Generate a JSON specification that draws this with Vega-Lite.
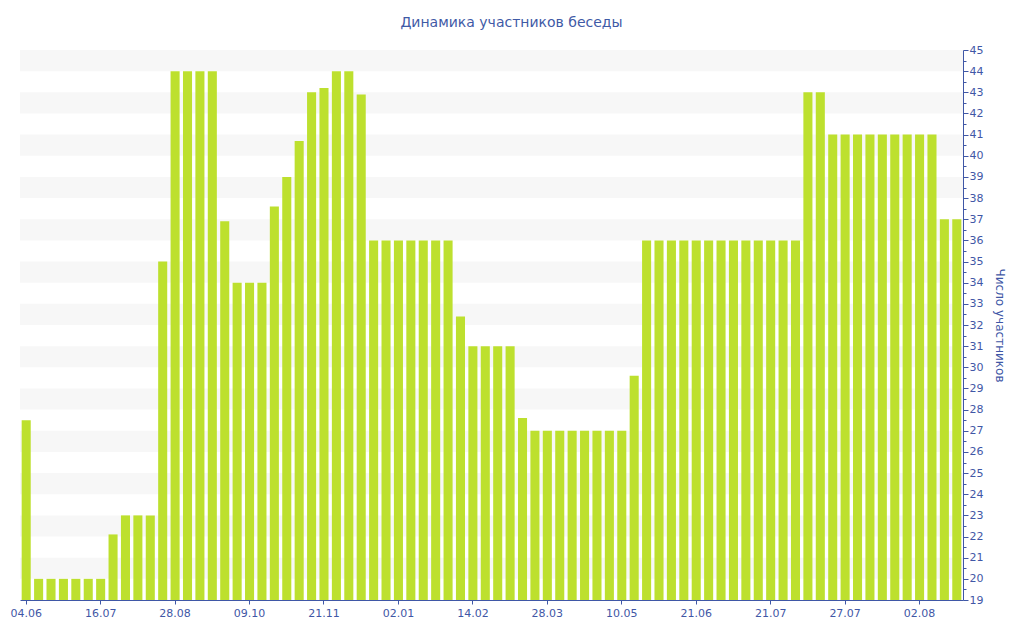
{
  "$schema": "https://vega.github.io/schema/vega-lite/v6.json",
  "width": 943,
  "height": 550,
  "autosize": {"type": "none"},
  "padding": {"left": 20, "top": 50, "right": 61, "bottom": 40},
  "background": "white",
  "title": {"text": "Динамика участников беседы", "font": "DejaVu Sans", "fontSize": 14, "fontWeight": "normal", "color": "#3f5aa6", "anchor": "middle", "dx": 20, "offset": 14},
  "config": {
    "view": {"stroke": null},
    "axis": {"labelFont": "DejaVu Sans", "titleFont": "DejaVu Sans", "labelColor": "#3f57a6", "titleColor": "#3f57a6", "domainColor": "#3f57a6", "tickColor": "#3f57a6", "grid": false}
  },
  "datasets": {
    "bars": [
      {"date": "04.06.2019", "count": 27.5},
      {"date": "11.06.2019", "count": 20},
      {"date": "18.06.2019", "count": 20},
      {"date": "25.06.2019", "count": 20},
      {"date": "02.07.2019", "count": 20},
      {"date": "09.07.2019", "count": 20},
      {"date": "16.07.2019", "count": 20},
      {"date": "23.07.2019", "count": 22.1},
      {"date": "30.07.2019", "count": 23},
      {"date": "06.08.2019", "count": 23},
      {"date": "13.08.2019", "count": 23},
      {"date": "20.08.2019", "count": 35},
      {"date": "28.08.2019", "count": 44},
      {"date": "04.09.2019", "count": 44},
      {"date": "11.09.2019", "count": 44},
      {"date": "18.09.2019", "count": 44},
      {"date": "25.09.2019", "count": 36.9},
      {"date": "02.10.2019", "count": 34},
      {"date": "09.10.2019", "count": 34},
      {"date": "16.10.2019", "count": 34},
      {"date": "23.10.2019", "count": 37.6},
      {"date": "30.10.2019", "count": 39},
      {"date": "06.11.2019", "count": 40.7},
      {"date": "13.11.2019", "count": 43},
      {"date": "21.11.2019", "count": 43.2},
      {"date": "28.11.2019", "count": 44},
      {"date": "05.12.2019", "count": 44},
      {"date": "12.12.2019", "count": 42.9},
      {"date": "19.12.2019", "count": 36},
      {"date": "26.12.2019", "count": 36},
      {"date": "02.01.2020", "count": 36},
      {"date": "09.01.2020", "count": 36},
      {"date": "16.01.2020", "count": 36},
      {"date": "23.01.2020", "count": 36},
      {"date": "30.01.2020", "count": 36},
      {"date": "06.02.2020", "count": 32.4},
      {"date": "14.02.2020", "count": 31},
      {"date": "21.02.2020", "count": 31},
      {"date": "28.02.2020", "count": 31},
      {"date": "06.03.2020", "count": 31},
      {"date": "13.03.2020", "count": 27.6},
      {"date": "20.03.2020", "count": 27},
      {"date": "28.03.2020", "count": 27},
      {"date": "04.04.2020", "count": 27},
      {"date": "11.04.2020", "count": 27},
      {"date": "18.04.2020", "count": 27},
      {"date": "25.04.2020", "count": 27},
      {"date": "02.05.2020", "count": 27},
      {"date": "10.05.2020", "count": 27},
      {"date": "17.05.2020", "count": 29.6},
      {"date": "24.05.2020", "count": 36},
      {"date": "31.05.2020", "count": 36},
      {"date": "07.06.2020", "count": 36},
      {"date": "14.06.2020", "count": 36},
      {"date": "21.06.2020", "count": 36},
      {"date": "26.06.2020", "count": 36},
      {"date": "01.07.2020", "count": 36},
      {"date": "06.07.2020", "count": 36},
      {"date": "11.07.2020", "count": 36},
      {"date": "16.07.2020", "count": 36},
      {"date": "21.07.2020", "count": 36},
      {"date": "22.07.2020", "count": 36},
      {"date": "23.07.2020", "count": 36},
      {"date": "24.07.2020", "count": 43},
      {"date": "25.07.2020", "count": 43},
      {"date": "26.07.2020", "count": 41},
      {"date": "27.07.2020", "count": 41},
      {"date": "28.07.2020", "count": 41},
      {"date": "29.07.2020", "count": 41},
      {"date": "30.07.2020", "count": 41},
      {"date": "31.07.2020", "count": 41},
      {"date": "01.08.2020", "count": 41},
      {"date": "02.08.2020", "count": 41},
      {"date": "03.08.2020", "count": 41},
      {"date": "04.08.2020", "count": 37},
      {"date": "05.08.2020", "count": 37}
    ],
    "bands": [
      {"lo": 20, "hi": 21}, {"lo": 22, "hi": 23}, {"lo": 24, "hi": 25}, {"lo": 26, "hi": 27},
      {"lo": 28, "hi": 29}, {"lo": 30, "hi": 31}, {"lo": 32, "hi": 33}, {"lo": 34, "hi": 35},
      {"lo": 36, "hi": 37}, {"lo": 38, "hi": 39}, {"lo": 40, "hi": 41}, {"lo": 42, "hi": 43},
      {"lo": 44, "hi": 45}
    ]
  },
  "layer": [
    {
      "data": {"name": "bands"},
      "mark": {"type": "rect", "color": "#f7f7f7"},
      "encoding": {
        "y": {"field": "lo", "type": "quantitative", "scale": {"domain": [19, 45], "zero": false, "nice": false},
          "axis": {"orient": "right", "values": [19.5, 20.5, 21.5, 22.5, 23.5, 24.5, 25.5, 26.5, 27.5, 28.5, 29.5, 30.5, 31.5, 32.5, 33.5, 34.5, 35.5, 36.5, 37.5, 38.5, 39.5, 40.5, 41.5, 42.5, 43.5, 44.5], "labels": false, "domain": false, "tickSize": 3, "title": null}},
        "y2": {"field": "hi"}
      }
    },
    {
      "data": {"name": "bars"},
      "mark": {"type": "bar", "color": "#bde02e"},
      "encoding": {
        "x": {"field": "date", "type": "ordinal", "sort": null, "scale": {"paddingInner": 0.27},
          "axis": {"values": ["04.06.2019", "16.07.2019", "28.08.2019", "09.10.2019", "21.11.2019", "02.01.2020", "14.02.2020", "28.03.2020", "10.05.2020", "21.06.2020", "21.07.2020", "27.07.2020", "02.08.2020"], "labelExpr": "substring(datum.label, 0, 5)", "labelAngle": 0, "title": null, "tickSize": 4, "labelFontSize": 11, "labelPadding": 3}},
        "y": {"field": "count", "type": "quantitative", "scale": {"domain": [19, 45], "zero": false, "nice": false},
          "axis": {"orient": "right", "values": [19, 20, 21, 22, 23, 24, 25, 26, 27, 28, 29, 30, 31, 32, 33, 34, 35, 36, 37, 38, 39, 40, 41, 42, 43, 44, 45], "tickSize": 5, "labelFontSize": 11, "labelPadding": 1, "title": "Число участников", "titleFontSize": 12, "titleFontWeight": "normal", "titlePadding": 10}},
        "y2": {"datum": 19}
      }
    }
  ],
  "resolve": {"axis": {"y": "independent"}}
}
